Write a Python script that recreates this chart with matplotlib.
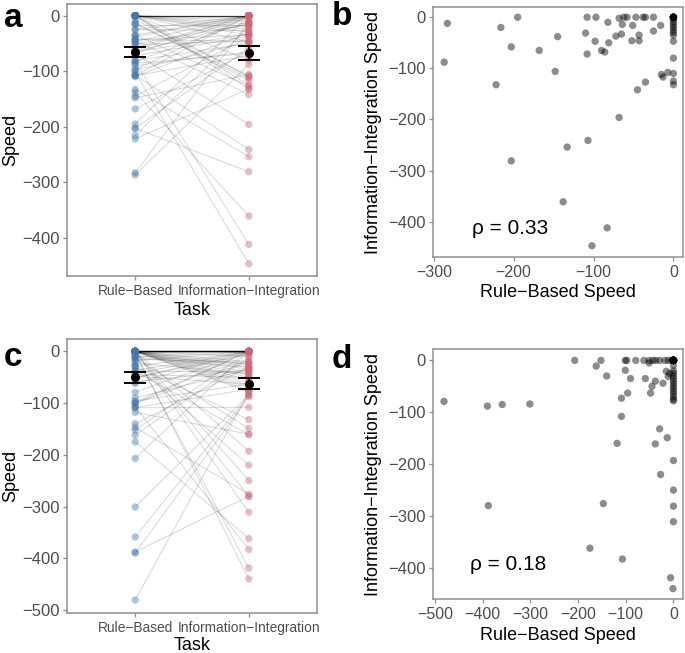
import numpy as np
import matplotlib
matplotlib.use('Agg')
import matplotlib.pyplot as plt

plt.rcParams['font.family'] = ['Liberation Sans', 'DejaVu Sans']

# ---------------- data ----------------
tasks = ['Rule\u2212Based', 'Information\u2212Integration']

# Study 1 (panels a, b): paired speeds per participant
rb1 = [-287, -283, -216, -195, -203, -222, -168, -145, -148, -203, -133, -138,
       -107, -102, -83, -68, -108, -97, -110, -108, -98, -90, -86, -82, -81,
       -72, -68, -64, -65, -62, -58, -51, -52, -47, -43, -43, -38, -35, -25,
       -25, -16, -35, -45, -15, -13, -7,
       0, 0, 0, 0, 0, 0, 0, 0, 0, 0,
       0, 0, 0, 0, 0, 0, 0, 0, 0, 0,
       0, 0]
ii1 = [-88, -12, -20, 0, -58, -132, -65, -38, -106, -281, -254, -361,
       -241, -447, -412, -196, 0, 0, -31, -72, -47, -65, -68, -10, -50,
       -37, -2, -14, -33, 0, 0, -16, -46, 0, -35, -46, 0, 0, 0,
       -27, -16, -127, -142, -112, -117, -108,
       0, 0, 0, 0, 0, 0, 0, 0, 0, 0,
       -5, -10, -15, -20, -25, -30, -35, -47, -80, -110,
       -125, -132]

# Study 2 (panels c, d)
rb2 = [-481, -390, -359, -301, -388, -207, -162, -152, -140, -147, -175, -118,
       -109, -109, -107, -101, -98, -101, -96, -90, -79, -62, -59, -51, -48,
       -45, -38, -38, -43, -37, -29, -29, -27, -22, -15, -13, -6, -1, -51,
       -18, -11, -4, -11, -8,
       0, 0, 0, 0, 0, 0, 0, 0, 0, 0,
       0, 0, 0, 0, 0, 0, 0, 0, 0, 0,
       0, 0, 0, 0, 0, 0, 0, 0, 0, 0,
       0, 0, 0, 0, 0, 0, 0, 0, 0, 0,
       0, 0, 0, 0, 0, 0, 0]
ii2 = [-79, -88, -85, -84, -280, 0, -11, 0, -30, -276, -362, -160,
       -108, -73, -383, 0, 0, -19, -63, -35, 0, 0, -35, 0, -63,
       -50, -40, -161, 0, 0, 0, -132, -220, -44, -21, -149, -419, -440, -5,
       0, 0, 0, -31, -25,
       -10, -20, -25, -30, -35, -40, -45, -55, -70, -75,
       -193, -250, -281, -311, -50, -60, -65, -78, 0, 0,
       0, 0, 0, 0, 0, 0, 0, 0, 0, 0,
       0, 0, 0, 0, 0, 0, 0, 0, 0, 0,
       0, 0, 0, 0, 0, 0, 0]

rho_labels = ['\u03c1 = 0.33', '\u03c1 = 0.18']
panel_letters = ['a', 'b', 'c', 'd']

# ---------------- style ----------------
W, H = 685, 653
BLUE = '#4477AA'
RED = '#CC6677'
FRAME = '#8f8f8f'
TICKC = '#4d4d4d'

fig = plt.figure(figsize=(W / 100, H / 100), dpi=100)


def px_axes(left, top, right, bottom):
    return fig.add_axes([left / W, 1 - bottom / H, (right - left) / W, (bottom - top) / H])


def style(ax):
    for s in ax.spines.values():
        s.set_color(FRAME)
        s.set_linewidth(1.1)
    ax.tick_params(direction='out', length=3, width=0.9, color=FRAME,
                   labelcolor=TICKC, pad=2.5)
    ax.set_facecolor('white')


def paired(ax, rb, ii, ylim, yticks, xlab_y):
    rb = np.asarray(rb, float)
    ii = np.asarray(ii, float)
    n = len(rb)
    for r, i in zip(rb, ii):
        ax.plot([1, 2], [r, i], color='black', alpha=0.14, lw=0.8, zorder=1)
    ax.scatter(np.ones(n), rb, s=28, color=BLUE, alpha=0.42, edgecolors='none', zorder=2)
    ax.scatter(np.full(n, 2), ii, s=28, color=RED, alpha=0.42, edgecolors='none', zorder=2)
    means = [rb.mean(), ii.mean()]
    ses = [rb.std(ddof=1) / np.sqrt(n), ii.std(ddof=1) / np.sqrt(n)]
    ax.errorbar([1, 2], means, yerr=ses, fmt='o', color='black', ms=5.5,
                capsize=8, elinewidth=1.4, capthick=1.4, zorder=3)
    ax.set_xlim(0.4, 2.6)
    ax.set_ylim(*ylim)
    ax.set_xticks([1, 2])
    ax.set_xticklabels(tasks, fontsize=9.9)
    ax.set_yticks(yticks)
    style(ax)
    ax.tick_params(axis='y', labelsize=12)
    ax.set_ylabel('Speed', fontsize=13)
    ax.set_xlabel('Task', fontsize=13)
    ax.yaxis.set_label_coords(-0.19, 0.5)
    ax.xaxis.set_label_coords(0.5, xlab_y)


def scatter(ax, rb, ii, xlim, ylim, xticks, yticks, label, lpos, xlab_y):
    ax.scatter(rb, ii, s=28, color='black', alpha=0.45, edgecolors='none', zorder=2)
    ax.set_xlim(*xlim)
    ax.set_ylim(*ylim)
    ax.set_xticks(xticks)
    ax.set_yticks(yticks)
    style(ax)
    ax.tick_params(axis='x', labelsize=11.5)
    ax.tick_params(axis='y', labelsize=12)
    ax.set_xlabel('Rule\u2212Based Speed', fontsize=13)
    ax.set_ylabel('Information\u2212Integration Speed', fontsize=13)
    ax.yaxis.set_label_coords(-0.205, 0.5)
    ax.xaxis.set_label_coords(0.5, xlab_y)
    ax.text(lpos[0], lpos[1], label, fontsize=15, ha='center', va='center')


ax_a = px_axes(67, 4, 317, 276)
paired(ax_a, rb1, ii1, (-469, 21), [0, -100, -200, -300, -400], -0.095)

ax_b = px_axes(433, 7, 683, 257)
scatter(ax_b, rb1, ii1, (-301, 12), (-469, 20), [-300, -200, -100, 0],
        [0, -100, -200, -300, -400], rho_labels[0], (-205, -414), -0.106)

ax_c = px_axes(67, 339, 317, 613)
paired(ax_c, rb2, ii2, (-506, 24), [0, -100, -200, -300, -400, -500], -0.086)

ax_d = px_axes(433, 349, 683, 599)
scatter(ax_d, rb2, ii2, (-504, 20), (-460, 22), [-500, -400, -300, -200, -100, 0],
        [0, -100, -200, -300, -400], rho_labels[1], (-346, -393), -0.112)

letter_pos = [(4, 27), (332, 25), (4, 366), (332, 368)]
for letter, (x, y) in zip(panel_letters, letter_pos):
    fig.text(x / W, 1 - y / H, letter, fontsize=24, fontweight='bold',
             ha='left', va='baseline')

fig.savefig('out.png', dpi=100)
